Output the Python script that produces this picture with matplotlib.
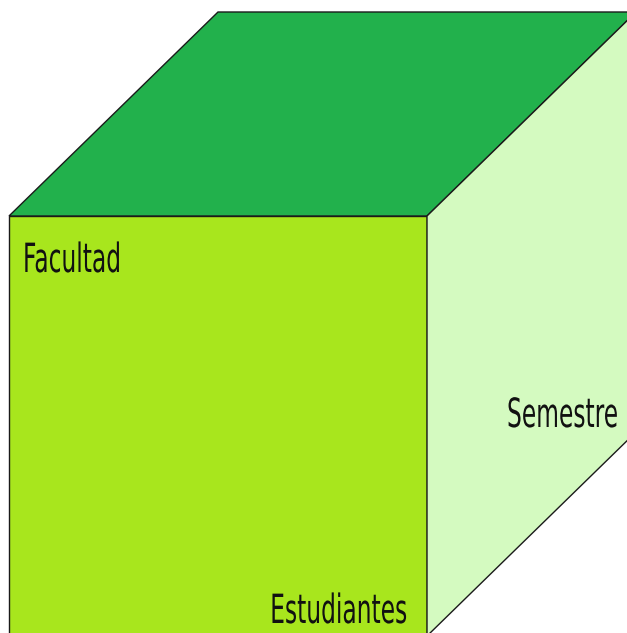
import matplotlib.pyplot as plt
from matplotlib.patches import Polygon
from matplotlib import patheffects
from matplotlib.transforms import Affine2D

# Cube in pixel coords (y grows downwards)
front_x = [9, 427]
front_y = [216, 636]
depth = [209, -204]

face_names = ['front', 'top', 'right']
face_colors = ['#A8E61D', '#22B14C', '#D4FAC0']

labels = ['Facultad', 'Estudiantes', 'Semestre']
label_pos = [(23, 272), (407, 623), (618, 427)]
label_ha = ['left', 'right', 'right']


# squeeze the glyphs horizontally around the anchor (narrow font look)
class Squeeze(patheffects.AbstractPathEffect):
    def __init__(self, x_anchor, sx):
        super().__init__()
        self.x_anchor = x_anchor
        self.sx = sx

    def draw_path(self, renderer, gc, tpath, affine, rgbFace=None):
        squeeze = (Affine2D().translate(-self.x_anchor, 0)
                   .scale(self.sx, 1).translate(self.x_anchor, 0))
        renderer.draw_path(gc, tpath, affine + squeeze, rgbFace)


fig = plt.figure(figsize=(6.27, 6.33), dpi=100)
ax = fig.add_axes([0, 0, 1, 1])
ax.set_xlim(0, 627)
ax.set_ylim(633, 0)
ax.axis('off')

x0, x1 = front_x
y0, y1 = front_y
dx, dy = depth
faces = {
    'front': [(x0, y0), (x1, y0), (x1, y1), (x0, y1)],
    'top': [(x0, y0), (x0 + dx, y0 + dy), (x1 + dx, y0 + dy), (x1, y0)],
    'right': [(x1, y0), (x1 + dx, y0 + dy), (x1 + dx, y1 + dy), (x1, y1)],
}

for name, col in zip(face_names, face_colors):
    ax.add_patch(Polygon(faces[name], closed=True, facecolor=col,
                         edgecolor='#1a1a1a', linewidth=1.0))

for txt, (tx, ty), ha in zip(labels, label_pos, label_ha):
    t = ax.text(tx, ty, txt, ha=ha, va='baseline', fontsize=29,
                color='#111111')
    # axes fill the figure, so data x equals pixel x
    t.set_path_effects([Squeeze(tx, 0.58)])

plt.savefig('out.png', dpi=100)
